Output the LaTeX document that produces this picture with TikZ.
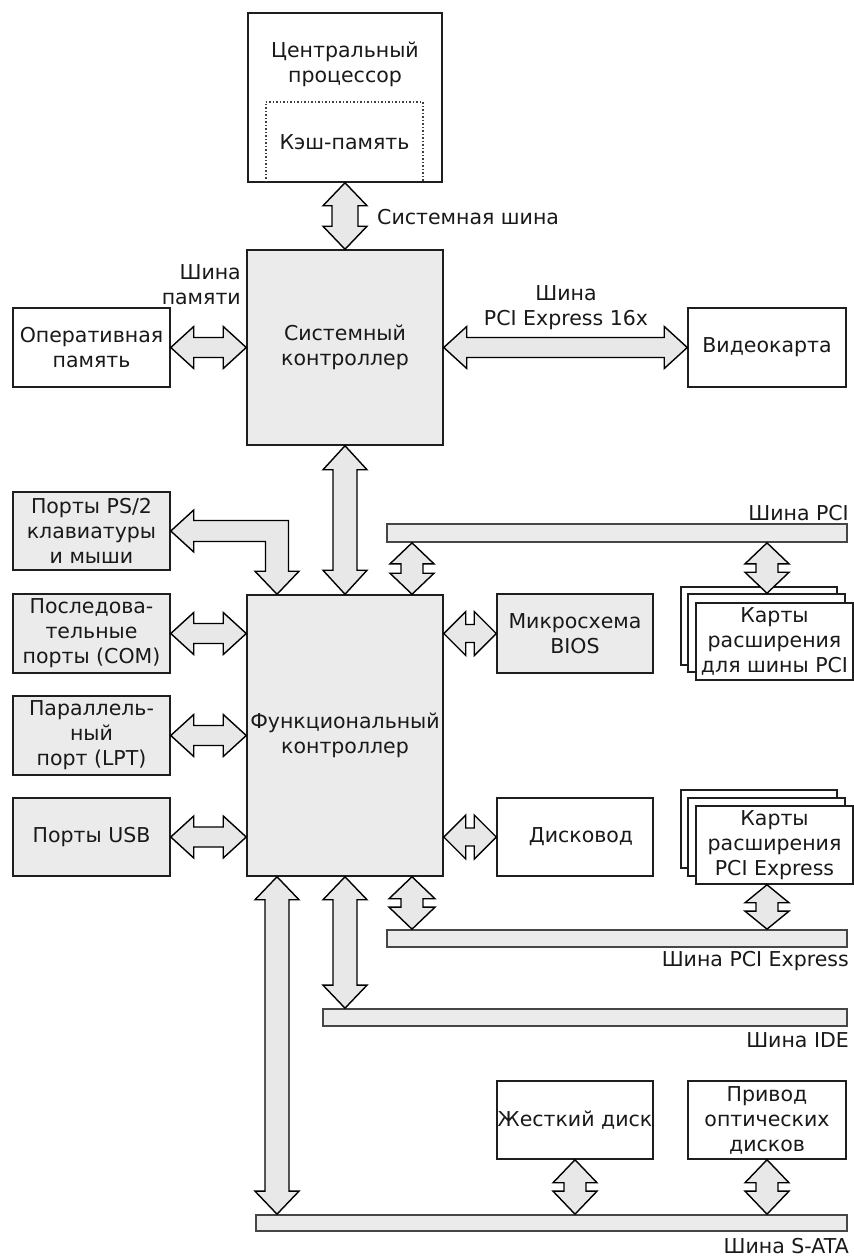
\documentclass[tikz,border=0pt]{standalone}
\usepackage{fontspec}
\setmainfont{DejaVu Sans}
\usetikzlibrary{calc}
\definecolor{boxgray}{RGB}{235,235,235}
\definecolor{arrowgray}{RGB}{232,232,232}
\definecolor{linec}{RGB}{30,30,30}
\definecolor{barline}{RGB}{70,70,70}
\newcommand{\vbiarrow}[5]{%
  \draw[barrow] let \p1=(#1), \p2=(#2) in
    (\x1,\y1) -- (\x1+#3,\y1-#5) -- (\x1+#4,\y1-#5) -- (\x1+#4,\y2+#5) -- (\x1+#3,\y2+#5)
    -- (\x1,\y2) -- (\x1-#3,\y2+#5) -- (\x1-#4,\y2+#5) -- (\x1-#4,\y1-#5) -- (\x1-#3,\y1-#5) -- cycle;}
\newcommand{\hbiarrow}[5]{%
  \draw[barrow] let \p1=(#1), \p2=(#2) in
    (\x1,\y1) -- (\x1+#5,\y1+#3) -- (\x1+#5,\y1+#4) -- (\x2-#5,\y1+#4) -- (\x2-#5,\y1+#3)
    -- (\x2,\y1) -- (\x2-#5,\y1-#3) -- (\x2-#5,\y1-#4) -- (\x1+#5,\y1-#4) -- (\x1+#5,\y1-#3) -- cycle;}
\begin{document}
\begin{tikzpicture}[x=1pt,y=-1pt,
  every node/.style={font=\fontsize{20.5}{25}\selectfont, text=black!90},
  wbox/.style={draw=linec, line width=1.5pt, fill=white, align=center, inner sep=0pt},
  gbox/.style={wbox, fill=boxgray},
  bus/.style={draw=barline, line width=1.7pt, fill=boxgray, inner sep=0pt},
  lbl/.style={inner sep=0pt},
  barrow/.style={draw=black, line width=1.4pt, fill=arrowgray, line join=miter}]
\useasboundingbox (0,0) rectangle (854,1259);
\fill[white] (0,0) rectangle (854,1259);

% column coordinates
\coordinate (colA) at (277,0);
\coordinate (colB) at (412,0);
\coordinate (colD) at (767,0);

% CPU
\node[wbox, minimum width=194pt, minimum height=169pt] (cpu) at (345,97.5) {};
\node[lbl, align=center] (cputext) at (345,64.5) {Центральный\\процессор};
\node[lbl, minimum width=157pt, minimum height=80pt] (cache) at (344.5,142) {Кэш-память};
\draw[dotted, line width=1.5pt, draw=black!75] (cache.south west) -- (cache.north west) -- (cache.north east) -- (cache.south east);

% system controller and neighbours
\node[gbox, minimum width=196pt, minimum height=195pt] (sys) at (345,347.5) {Системный\\контроллер};
\node[wbox, minimum width=157pt, minimum height=79pt] (ram) at (91.5,347.5) {Оперативная\\память};
\node[wbox, minimum width=158pt, minimum height=79pt] (video) at (767,347.5) {Видеокарта};

% functional controller and ports
\node[gbox, minimum width=196pt, minimum height=281pt] (func) at (345,735.5) {Функциональный\\контроллер};
\node[gbox, minimum width=157pt, minimum height=78pt] (ps2) at (91.5,531) {Порты PS/2\\клавиатуры\\и мыши};
\node[gbox, minimum width=157pt, minimum height=79pt] (com) at (91.5,633.5) {Последова-\\тельные\\порты (COM)};
\node[gbox, minimum width=157pt, minimum height=79pt] (lpt) at (91.5,735.5) {Параллель-\\ный\\порт (LPT)};
\node[gbox, minimum width=157pt, minimum height=78pt] (usb) at (91.5,837) {Порты USB};

\node[gbox, minimum width=156pt, minimum height=79pt] (bios) at (575,633.5) {Микросхема\\BIOS};
\node[wbox, minimum width=156pt, minimum height=78pt] (drive) at (575,837) {\hspace*{12pt}Дисковод};

% buses
\node[bus, minimum width=460pt, minimum height=18pt] (pcibar) at (617,533) {};
\node[bus, minimum width=460pt, minimum height=17pt] (pciebar) at (617,938.5) {};
\node[bus, minimum width=524pt, minimum height=17pt] (idebar) at (585,1017.5) {};
\node[bus, minimum width=591pt, minimum height=16pt] (satabar) at (551.5,1223) {};

\node[lbl, anchor=east] (pcilbl) at (849,513) {Шина PCI};
\node[lbl, anchor=east] (pcielbl) at (849,961) {Шина PCI Express};
\node[lbl, anchor=east] (idelbl) at (849,1040) {Шина IDE};
\node[lbl, anchor=east] (satalbl) at (849,1246) {Шина S-ATA};

% expansion cards (stacks)
\node[wbox, minimum width=156pt, minimum height=78pt] (pcib1) at (759,626) {};
\node[wbox, minimum width=157pt, minimum height=78pt] (pcib2) at (766.5,633) {};
\node[wbox, minimum width=157pt, minimum height=77pt] (pcicards) at (774.5,641.5) {Карты\\расширения\\для шины PCI};

\node[wbox, minimum width=156pt, minimum height=78pt] (pcieb1) at (759,829) {};
\node[wbox, minimum width=157pt, minimum height=78pt] (pcieb2) at (766.5,837) {};
\node[wbox, minimum width=157pt, minimum height=78pt] (pciecards) at (774.5,845) {Карты\\расширения\\PCI Express};

% disks
\node[wbox, minimum width=156pt, minimum height=78pt] (hdd) at (575,1120) {Жесткий диск};
\node[wbox, minimum width=158pt, minimum height=78pt] (odd) at (767,1120) {Привод\\оптических\\дисков};

% bus labels near arrows
\node[lbl, anchor=west] (sysbuslbl) at (377,217) {Системная шина};
\node[lbl, anchor=east, align=right] (memlbl) at (241,285) {Шина\\памяти};
\node[lbl, align=center] (pcie16lbl) at (566,307.5) {Шина\\PCI Express 16x};

% arrows
\vbiarrow{cpu.south}{sys.north}{22pt}{13pt}{23pt}
\vbiarrow{sys.south}{func.north}{22pt}{12pt}{24pt}
\hbiarrow{ram.east}{sys.west}{21pt}{10pt}{23pt}
\hbiarrow{sys.east}{video.west}{21pt}{10pt}{23pt}

\vbiarrow{pcibar.south -| colB}{func.north -| colB}{22pt}{11pt}{21pt}
\vbiarrow{pcibar.south -| colD}{pcib2.north -| colD}{22pt}{11pt}{21pt}

\hbiarrow{com.east}{func.west |- com.east}{21pt}{10pt}{23pt}
\hbiarrow{lpt.east}{func.west |- lpt.east}{21pt}{10pt}{23pt}
\hbiarrow{usb.east}{func.west |- usb.east}{21pt}{10pt}{23pt}
\hbiarrow{func.east |- bios.west}{bios.west}{22pt}{9pt}{22pt}
\hbiarrow{func.east |- drive.west}{drive.west}{22pt}{9pt}{22pt}

\vbiarrow{func.south -| colB}{pciebar.north -| colB}{23pt}{11pt}{22pt}
\vbiarrow{pciecards.south -| colD}{pciebar.north -| colD}{22pt}{11pt}{18pt}
\vbiarrow{func.south}{idebar.north -| func.south}{22pt}{12pt}{23pt}
\vbiarrow{func.south -| colA}{satabar.north -| colA}{22pt}{12pt}{23pt}
\vbiarrow{hdd.south}{satabar.north -| hdd.south}{22pt}{11pt}{23pt}
\vbiarrow{odd.south}{satabar.north -| odd.south}{22pt}{11pt}{23pt}

% PS/2 elbow arrow
\draw[barrow] let \p1=(ps2.east), \p2=(func.north -| colA) in
  (\x1,\y1) -- (\x1+23pt,\y1+21pt) -- (\x1+23pt,\y1+10.5pt) -- (\x2+11.5pt,\y1+10.5pt)
  -- (\x2+11.5pt,\y2+23pt) -- (\x2+22pt,\y2+23pt) -- (\x2,\y2) -- (\x2-22pt,\y2+23pt)
  -- (\x2-11.5pt,\y2+23pt) -- (\x2-11.5pt,\y1-10.5pt) -- (\x1+23pt,\y1-10.5pt)
  -- (\x1+23pt,\y1-21pt) -- cycle;
\end{tikzpicture}
\end{document}
